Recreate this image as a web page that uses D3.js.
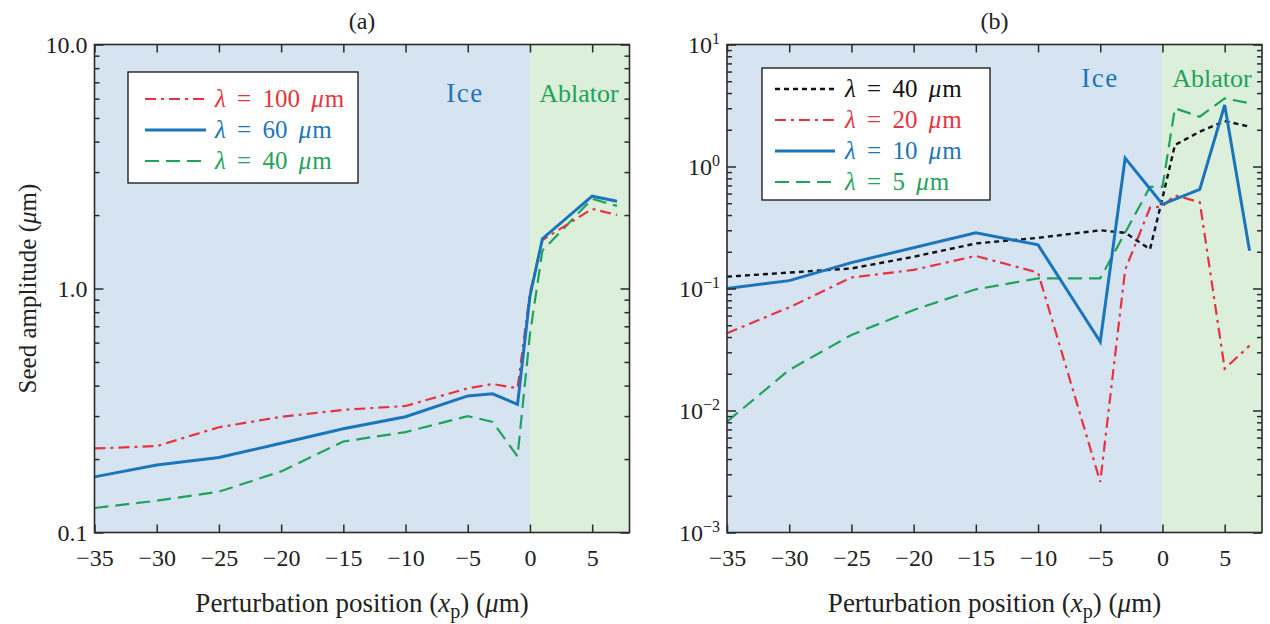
<!DOCTYPE html>
<html><head><meta charset="utf-8">
<script src="https://cdn.jsdelivr.net/npm/d3@7"></script>
<style>body{margin:0;background:#fff;}</style></head>
<body>
<svg id="c" width="1270" height="624"></svg>
<script>
// ---------- data ----------
// Panel (a)
const xA = [-35,-30,-25,-20,-15,-10,-5,-3,-1,0,1,5,7];
const aRed100  = [0.221,0.226,0.27,0.298,0.318,0.33,0.39,0.406,0.39,0.96,1.58,2.12,2.0];
const aBlue60  = [0.169,0.189,0.203,0.232,0.266,0.298,0.363,0.37,0.335,0.93,1.6,2.39,2.28];
const aGreen40 = [0.126,0.135,0.147,0.178,0.236,0.258,0.30,0.284,0.205,0.65,1.43,2.33,2.18];
// Panel (b)
const xB = [-35,-30,-25,-20,-15,-10,-5,-3,-1,0,1,3,5,7];
const bBlack40 = [0.125,0.135,0.146,0.182,0.234,0.26,0.30,0.286,0.21,0.55,1.5,1.93,2.36,2.12];
const bRed20   = [0.043,0.070,0.123,0.142,0.185,0.135,0.0026,0.142,0.46,0.47,0.58,0.51,0.022,0.034];
const xBBlue = [-35,-30,-25,-15,-10,-5,-3,0,3,5,7];
const bBlue10  = [0.1,0.116,0.163,0.286,0.228,0.0366,1.17,0.49,0.65,3.19,0.204];
const xBGreen = [-35,-30,-25,-20,-15,-10,-5,-1,0,1,3,5,7];
const bGreen5  = [0.0081,0.0215,0.0416,0.0667,0.0985,0.121,0.121,0.68,0.68,3.0,2.56,3.62,3.3];

const xTicks = [-35,-30,-25,-20,-15,-10,-5,0,5];
const aYTicks = [0.1,1,10];
const aYLabels = ["0.1","1.0","10.0"];
const bYTicks = [1e-3,1e-2,1e-1,1,10];
const bYExp = ["−3","−2","−1","0","1"];
const regionLabels = ["Ice","Ablator"];

const C = {red:"#e5343f", blue:"#1b75bb", green:"#1fa35a", black:"#111",
           ice:"#d6e4f2", abl:"#dcefdb", frame:"#2a2a2a"};
const FONT = "Liberation Serif";

const svg = d3.select("#c");

function minorTicks(lo, hi){
  const out=[];
  for(let e=Math.round(Math.log10(lo)); e<Math.round(Math.log10(hi)); e++){
    for(let m=2;m<=9;m++) out.push(m*Math.pow(10,e));
  }
  return out;
}
function txt(sel,size){ return sel.attr("font-family",FONT).attr("font-size",size); }

function panel(opts){
  const {left,right,top,bottom,yDomain,title} = opts;
  const x = d3.scaleLinear().domain([-35,8]).range([left,right]);
  const y = d3.scaleLog().domain(yDomain).range([bottom,top]);
  const g = svg.append("g");
  g.append("rect").attr("x",x(-35)).attr("y",top).attr("width",x(0)-x(-35)).attr("height",bottom-top).attr("fill",C.ice);
  g.append("rect").attr("x",x(0)).attr("y",top).attr("width",x(8)-x(0)).attr("height",bottom-top).attr("fill",C.abl);

  txt(g.append("text").attr("x",opts.iceX).attr("y",opts.regY).attr("text-anchor","middle")
    .attr("fill",C.blue).attr("letter-spacing",1.5).text(regionLabels[0]),27);
  txt(g.append("text").attr("x",opts.ablX).attr("y",opts.regY).attr("text-anchor","middle")
    .attr("fill",C.green).text(regionLabels[1]),26);

  const line = d3.line().x(d=>x(d[0])).y(d=>y(d[1]));
  opts.series.forEach(s=>{
    g.append("path").datum(s.xs.map((v,i)=>[v,s.ys[i]]))
      .attr("d",line).attr("fill","none").attr("stroke",s.color)
      .attr("stroke-width",s.w).attr("stroke-dasharray",s.dash||null)
      .attr("stroke-linejoin","miter");
  });

  const fmtNone = ()=>"";
  const ax = [];
  ax.push(g.append("g").attr("transform",`translate(0,${bottom})`)
    .call(d3.axisBottom(x).tickValues(xTicks).tickSize(-8).tickPadding(16)
      .tickFormat(d=>d<0?"−"+Math.abs(d):String(d))));
  ax.push(g.append("g").attr("transform",`translate(0,${top})`)
    .call(d3.axisTop(x).tickValues(xTicks).tickSize(-8).tickFormat(fmtNone)));
  const ly = g.append("g").attr("transform",`translate(${left},0)`)
    .call(d3.axisLeft(y).tickValues(opts.yTicks).tickSize(-9).tickPadding(7).tickFormat((d,i)=>opts.yLab[i]));
  ax.push(ly);
  ax.push(g.append("g").attr("transform",`translate(${left},0)`)
    .call(d3.axisLeft(y).tickValues(minorTicks(yDomain[0],yDomain[1])).tickSize(-5).tickFormat(fmtNone)));
  ax.push(g.append("g").attr("transform",`translate(${right},0)`)
    .call(d3.axisRight(y).tickValues(opts.yTicks).tickSize(-9).tickFormat(fmtNone)));
  ax.push(g.append("g").attr("transform",`translate(${right},0)`)
    .call(d3.axisRight(y).tickValues(minorTicks(yDomain[0],yDomain[1])).tickSize(-5).tickFormat(fmtNone)));
  ax.forEach(a=>a.attr("font-family",FONT).attr("font-size",24));
  g.selectAll(".domain").remove();
  g.selectAll(".tick line").attr("stroke",C.frame).attr("stroke-width",1.5);
  txt(g.selectAll(".tick text"),24).attr("fill","#222");

  if(opts.sup){
    ly.selectAll(".tick text").each(function(d,i){
      const t=d3.select(this); t.text("");
      t.append("tspan").text("10");
      t.append("tspan").attr("dy","-0.55em").attr("font-size",16).text(bYExp[i]);
    });
  }
  g.append("rect").attr("x",left).attr("y",top).attr("width",right-left).attr("height",bottom-top)
    .attr("fill","none").attr("stroke",C.frame).attr("stroke-width",1.6);

  txt(g.append("text").attr("x",(left+right)/2).attr("y",29).attr("text-anchor","middle")
    .attr("fill","#222").text(title),24);

  const xl = txt(g.append("text").attr("x",(left+right)/2).attr("y",612).attr("text-anchor","middle")
    .attr("fill","#222"),27);
  xl.append("tspan").text("Perturbation position (");
  xl.append("tspan").attr("font-style","italic").text("x");
  xl.append("tspan").attr("dy",6).attr("font-size",20).text("p");
  xl.append("tspan").attr("dy",-6).text(") (");
  xl.append("tspan").attr("font-style","italic").text("μ");
  xl.append("tspan").text("m)");

  const L = opts.legend;
  g.append("rect").attr("x",L.x).attr("y",L.y).attr("width",L.w).attr("height",L.h)
    .attr("fill","#fff").attr("stroke","#111").attr("stroke-width",1.3);
  opts.series.slice().sort((a,b)=>a.order-b.order).forEach((s,i)=>{
    const yy = L.y + L.first + i*L.step;
    g.append("line").attr("x1",L.x+L.l1).attr("x2",L.x+L.l2).attr("y1",yy).attr("y2",yy)
      .attr("stroke",s.color).attr("stroke-width",s.w).attr("stroke-dasharray",s.dash||null);
    const t = txt(g.append("text").attr("x",L.x+L.tx).attr("y",yy+8).attr("fill",s.tcolor||s.color)
      .attr("word-spacing",5),25);
    t.append("tspan").attr("font-style","italic").text("λ");
    t.append("tspan").text(" = "+s.lam+" ");
    t.append("tspan").attr("font-style","italic").text("μ");
    t.append("tspan").attr("dx",1).text("m");
  });
}

panel({left:94.5,right:629.5,top:44.5,bottom:532.5,yDomain:[0.1,10],title:"(a)",
  yTicks:aYTicks,yLab:aYLabels,sup:false,iceX:465,ablX:579,regY:102,
  legend:{x:128,y:72,w:230,h:111,first:27,step:31,l1:17,l2:78,tx:87},
  series:[
    {xs:xA,ys:aGreen40,color:C.green,w:2.2,dash:"14,7",lam:"40",order:2},
    {xs:xA,ys:aRed100,color:C.red,w:2.2,dash:"11,5,3,5",lam:"100",order:0},
    {xs:xA,ys:aBlue60,color:C.blue,w:3,dash:null,lam:"60",order:1}
  ]});

panel({left:727,right:1262,top:44.5,bottom:532.5,yDomain:[1e-3,10],title:"(b)",
  yTicks:bYTicks,yLab:bYExp,sup:true,iceX:1100,ablX:1212,regY:87,
  legend:{x:762,y:68,w:228,h:132,first:21,step:31,l1:13,l2:73,tx:83},
  series:[
    {xs:xBGreen,ys:bGreen5,color:C.green,w:2.2,dash:"14,7",lam:"5",order:3},
    {xs:xB,ys:bRed20,color:C.red,w:2.2,dash:"11,5,3,5",lam:"20",order:1},
    {xs:xB,ys:bBlack40,color:C.black,w:2.4,dash:"5,4",lam:"40",order:0,tcolor:"#111"},
    {xs:xBBlue,ys:bBlue10,color:C.blue,w:3,dash:null,lam:"10",order:2}
  ]});

txt(svg.append("text").attr("transform","translate(36,288.5) rotate(-90)").attr("text-anchor","middle")
  .attr("fill","#222"),25)
  .call(t=>{t.append("tspan").text("Seed amplitude (");
            t.append("tspan").attr("font-style","italic").text("μ");
            t.append("tspan").text("m)");});
</script>
</body></html>
